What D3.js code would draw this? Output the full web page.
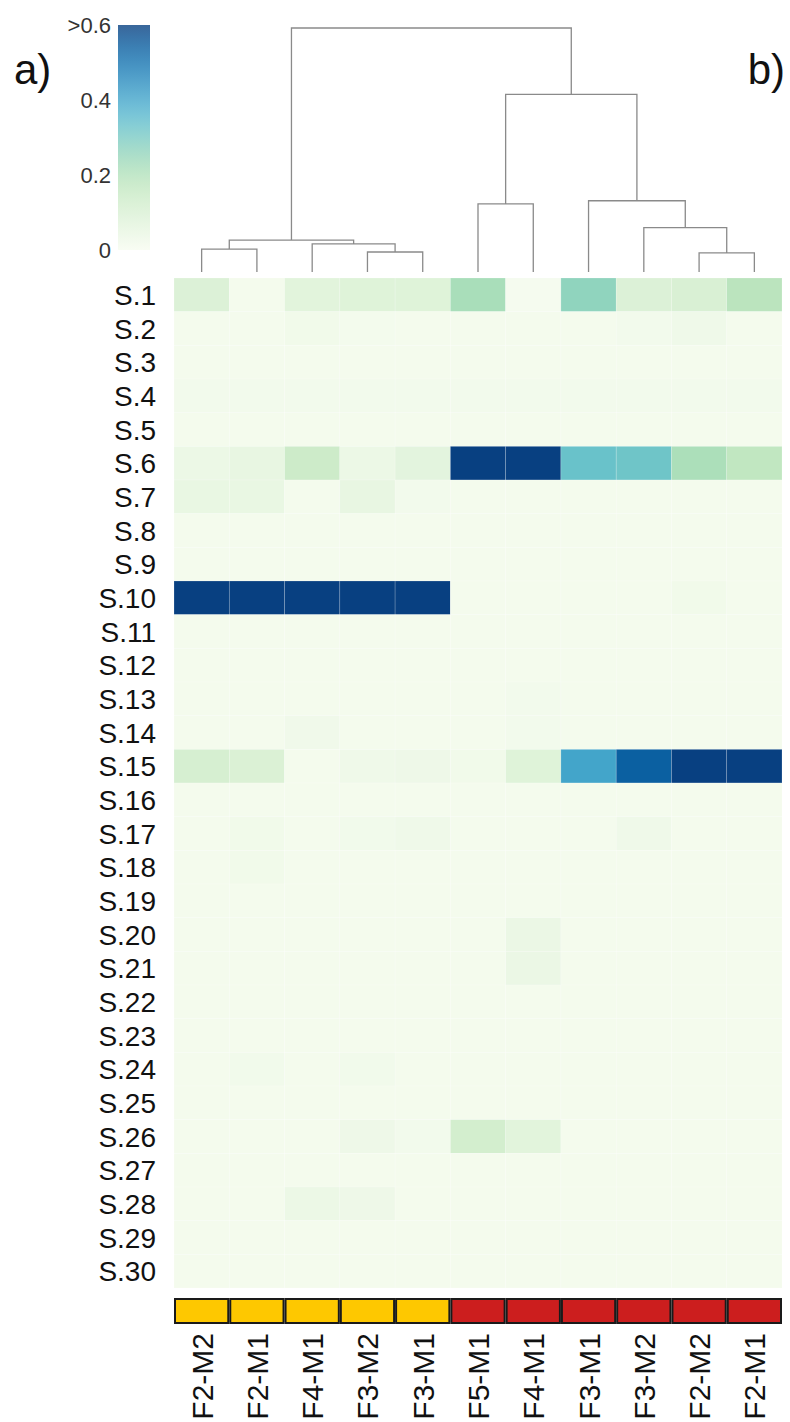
<!DOCTYPE html>
<html>
<head>
<meta charset="utf-8">
<script src="https://cdn.jsdelivr.net/npm/d3@7"></script>
<style>
  html, body { margin: 0; padding: 0; background: #fff; }
  svg { display: block; font-family: "Liberation Sans", Arial, sans-serif; }
</style>
</head>
<body>
<svg id="chart" width="790" height="1422"></svg>
<script>
// ---------------- data ----------------
const columns = ["F2-M2", "F2-M1", "F4-M1", "F3-M2", "F3-M1", "F5-M1", "F4-M1", "F3-M1", "F3-M2", "F2-M2", "F2-M1"];
const groups  = ["A", "A", "A", "A", "A", "B", "B", "B", "B", "B", "B"];
const rows = ["S.1","S.2","S.3","S.4","S.5","S.6","S.7","S.8","S.9","S.10",
              "S.11","S.12","S.13","S.14","S.15","S.16","S.17","S.18","S.19","S.20",
              "S.21","S.22","S.23","S.24","S.25","S.26","S.27","S.28","S.29","S.30"];
const values = [
  [0.090, 0.010, 0.070, 0.080, 0.080, 0.220, 0.005, 0.265, 0.090, 0.100, 0.185], // S.1
  [0.010, 0.010, 0.020, 0.012, 0.010, 0.010, 0.010, 0.010, 0.015, 0.025, 0.010], // S.2
  [0.010, 0.010, 0.010, 0.010, 0.010, 0.010, 0.010, 0.010, 0.010, 0.010, 0.010], // S.3
  [0.015, 0.015, 0.015, 0.015, 0.015, 0.015, 0.015, 0.015, 0.015, 0.015, 0.015], // S.4
  [0.010, 0.010, 0.010, 0.010, 0.010, 0.010, 0.010, 0.010, 0.010, 0.010, 0.010], // S.5
  [0.035, 0.050, 0.140, 0.035, 0.065, 0.650, 0.650, 0.330, 0.320, 0.215, 0.170], // S.6
  [0.045, 0.045, 0.010, 0.050, 0.015, 0.010, 0.010, 0.010, 0.010, 0.010, 0.010], // S.7
  [0.010, 0.010, 0.010, 0.010, 0.010, 0.010, 0.010, 0.010, 0.010, 0.010, 0.010], // S.8
  [0.010, 0.010, 0.010, 0.010, 0.010, 0.010, 0.010, 0.010, 0.010, 0.010, 0.010], // S.9
  [0.650, 0.650, 0.650, 0.650, 0.650, 0.010, 0.010, 0.010, 0.010, 0.020, 0.010], // S.10
  [0.010, 0.010, 0.010, 0.010, 0.010, 0.010, 0.010, 0.010, 0.010, 0.010, 0.010], // S.11
  [0.010, 0.010, 0.010, 0.010, 0.010, 0.010, 0.010, 0.010, 0.010, 0.010, 0.010], // S.12
  [0.010, 0.010, 0.010, 0.010, 0.010, 0.010, 0.015, 0.010, 0.010, 0.010, 0.010], // S.13
  [0.010, 0.010, 0.022, 0.010, 0.010, 0.010, 0.015, 0.010, 0.010, 0.010, 0.010], // S.14
  [0.110, 0.095, 0.010, 0.025, 0.030, 0.020, 0.080, 0.400, 0.540, 0.620, 0.620], // S.15
  [0.010, 0.010, 0.010, 0.010, 0.010, 0.010, 0.010, 0.010, 0.010, 0.010, 0.010], // S.16
  [0.010, 0.020, 0.010, 0.018, 0.025, 0.010, 0.010, 0.010, 0.025, 0.010, 0.010], // S.17
  [0.010, 0.020, 0.010, 0.010, 0.010, 0.010, 0.010, 0.010, 0.010, 0.010, 0.010], // S.18
  [0.010, 0.010, 0.010, 0.010, 0.010, 0.010, 0.010, 0.010, 0.010, 0.010, 0.010], // S.19
  [0.010, 0.010, 0.010, 0.010, 0.010, 0.010, 0.040, 0.010, 0.010, 0.010, 0.010], // S.20
  [0.010, 0.010, 0.010, 0.010, 0.010, 0.010, 0.040, 0.010, 0.010, 0.010, 0.010], // S.21
  [0.010, 0.010, 0.010, 0.010, 0.010, 0.010, 0.010, 0.010, 0.010, 0.010, 0.010], // S.22
  [0.010, 0.010, 0.010, 0.010, 0.010, 0.010, 0.010, 0.010, 0.010, 0.010, 0.010], // S.23
  [0.010, 0.018, 0.010, 0.018, 0.010, 0.010, 0.010, 0.010, 0.010, 0.010, 0.010], // S.24
  [0.010, 0.010, 0.010, 0.010, 0.010, 0.010, 0.010, 0.010, 0.010, 0.010, 0.010], // S.25
  [0.010, 0.010, 0.010, 0.030, 0.015, 0.120, 0.070, 0.010, 0.010, 0.010, 0.010], // S.26
  [0.010, 0.010, 0.010, 0.010, 0.010, 0.010, 0.010, 0.010, 0.010, 0.010, 0.010], // S.27
  [0.010, 0.010, 0.035, 0.030, 0.010, 0.010, 0.010, 0.010, 0.010, 0.010, 0.010], // S.28
  [0.010, 0.010, 0.010, 0.010, 0.010, 0.010, 0.010, 0.010, 0.010, 0.010, 0.010], // S.29
  [0.010, 0.010, 0.010, 0.010, 0.010, 0.010, 0.010, 0.010, 0.010, 0.010, 0.010]  // S.30
];
// dendrogram linkage (scipy style): [childA, childB, height]; leaves 0..10, merges 11..
const linkage = [
  [0, 1, 0.094],
  [3, 4, 0.082],
  [2, 12, 0.115],
  [11, 13, 0.131],
  [9, 10, 0.078],
  [8, 15, 0.182],
  [7, 16, 0.292],
  [5, 6, 0.279],
  [18, 17, 0.728],
  [14, 19, 1.0]
];
const legendTicks = [0, 0.2, 0.4, 0.6];
const legendTickLabels = ["0", "0.2", "0.4", ">0.6"];
const groupColors = { A: "#fec800", B: "#cc1e1e" };
const panelLabels = ["a)", "b)"];

// ---------------- layout ----------------
const svg = d3.select("#chart");
const x = d3.scaleBand().domain(d3.range(columns.length)).range([174, 782]).padding(0);
const y = d3.scaleBand().domain(rows).range([278, 1288]).padding(0);
const vmax = 0.6;
const color = v => d3.interpolateGnBu(Math.min(v, vmax) / vmax);

// heatmap cells
const cells = [];
values.forEach((r, i) => r.forEach((v, j) => cells.push({ row: rows[i], col: j, v })));
svg.append("g").selectAll("rect").data(cells).join("rect")
  .attr("x", d => x(d.col))
  .attr("y", d => y(d.row))
  .attr("width", x.bandwidth())
  .attr("height", y.bandwidth())
  .attr("fill", d => color(d.v))
  .attr("stroke", "#ffffff")
  .attr("stroke-opacity", 0.3)
  .attr("stroke-width", 0.6);

// row labels
svg.append("g").selectAll("text").data(rows).join("text")
  .attr("x", 156)
  .attr("y", d => y(d) + y.bandwidth() / 2)
  .attr("dy", "0.36em")
  .attr("text-anchor", "end")
  .attr("font-size", 28)
  .attr("fill", "#111")
  .text(d => d);

// group bar
const gy0 = 1299, gh = 24;
svg.append("g").selectAll("rect").data(groups).join("rect")
  .attr("x", (d, i) => x(i) + 1)
  .attr("y", gy0)
  .attr("width", x.bandwidth() - 2)
  .attr("height", gh)
  .attr("fill", d => groupColors[d])
  .attr("stroke", "#1a1a1a")
  .attr("stroke-width", 2);

// column labels
svg.append("g").selectAll("text").data(columns).join("text")
  .attr("transform", (d, i) => `translate(${x(i) + x.bandwidth() / 2 + 11},1333) rotate(-90)`)
  .attr("text-anchor", "end")
  .attr("font-size", 30)
  .attr("fill", "#111")
  .text(d => d);

// dendrogram
const yD = d3.scaleLinear().domain([0, 1]).range([272, 28]);
const nodes = columns.map((c, i) => ({ x: x(i) + x.bandwidth() / 2, h: 0 }));
const links = [];
linkage.forEach(([a, b, h]) => {
  const A = nodes[a], B = nodes[b];
  nodes.push({ x: (A.x + B.x) / 2, h });
  links.push([[A.x, yD(A.h)], [A.x, yD(h)], [B.x, yD(h)], [B.x, yD(B.h)]]);
});
svg.append("g").selectAll("path").data(links).join("path")
  .attr("d", d3.line())
  .attr("fill", "none")
  .attr("stroke", "#8a8a8a")
  .attr("stroke-width", 1.3);

// colour legend
const yC = d3.scaleLinear().domain([0, vmax]).range([250, 25]);
const defs = svg.append("defs");
const grad = defs.append("linearGradient").attr("id", "cbar")
  .attr("x1", 0).attr("y1", 1).attr("x2", 0).attr("y2", 0);
d3.range(0, 1.0001, 0.05).forEach(t => {
  grad.append("stop").attr("offset", t).attr("stop-color", d3.interpolateGnBu(t));
});
svg.append("rect")
  .attr("x", 118).attr("y", yC(vmax))
  .attr("width", 32).attr("height", yC(0) - yC(vmax))
  .attr("fill", "url(#cbar)")
  .attr("opacity", 0.8);
svg.append("g").selectAll("text").data(legendTicks).join("text")
  .attr("x", 111)
  .attr("y", d => yC(d))
  .attr("dy", "0.36em")
  .attr("text-anchor", "end")
  .attr("font-size", 22)
  .attr("fill", "#333")
  .text((d, i) => legendTickLabels[i]);

// panel labels
svg.append("text").attr("x", 14).attr("y", 84).attr("font-size", 42).attr("fill", "#111").text(panelLabels[0]);
svg.append("text").attr("x", 785).attr("y", 84).attr("text-anchor", "end").attr("font-size", 42).attr("fill", "#111").text(panelLabels[1]);
</script>
</body>
</html>
